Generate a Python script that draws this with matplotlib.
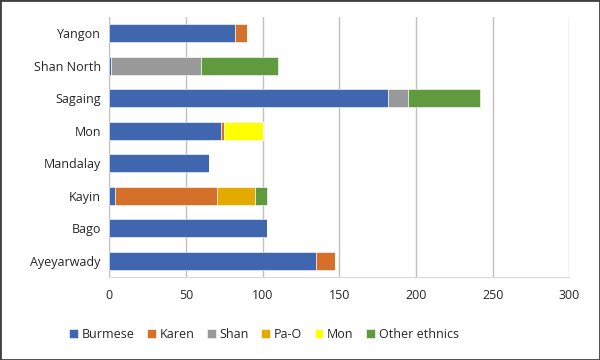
import matplotlib.pyplot as plt
import numpy as np

regions = ['Ayeyarwady', 'Bago', 'Kayin', 'Mandalay', 'Mon', 'Sagaing', 'Shan North', 'Yangon']
burmese = [135, 103, 4, 65, 73, 182, 1, 82]
karen = [12, 0, 66, 0, 2, 0, 0, 8]
shan = [0, 0, 0, 0, 0, 13, 59, 0]
pao = [0, 0, 25, 0, 0, 0, 0, 0]
mon = [0, 0, 0, 0, 25, 0, 0, 0]
other = [0, 0, 8, 0, 0, 47, 50, 0]

series = [('Burmese', burmese, '#3F66AE'),
          ('Karen', karen, '#D5702B'),
          ('Shan', shan, '#999999'),
          ('Pa-O', pao, '#E3AA00'),
          ('Mon', mon, '#FFFF00'),
          ('Other ethnics', other, '#5F9A3F')]

plt.rcParams['font.family'] = ['Open Sans', 'DejaVu Sans']

fig = plt.figure(figsize=(6, 3.6), dpi=100)
ax = fig.add_axes([0.182, 0.231, 0.767, 0.722])

y = np.arange(len(regions))
left = np.zeros(len(regions))
for name, vals, color in series:
    vals = np.array(vals, dtype=float)
    ax.barh(y, vals, left=left, height=0.55, color=color, label=name,
            edgecolor='white', linewidth=0.4, zorder=3)
    left += vals

ax.set_xlim(0, 300)
ax.set_ylim(-0.5, len(regions) - 0.5)
ax.set_xticks(range(0, 301, 50))
ax.set_yticks(y)
ax.set_yticklabels(regions)
ax.tick_params(length=0, labelsize=9, colors='#262626', pad=6)
ax.tick_params(axis='x', pad=9)
ax.grid(axis='x', color='#BFBFBF', linewidth=1, zorder=0)
for s in ['top', 'right']:
    ax.spines[s].set_visible(False)
ax.spines['left'].set_color('#BFBFBF')
ax.spines['bottom'].set_color('#D9D9D9')

fig.legend(loc='center', bbox_to_anchor=(0.44, 0.072), ncol=6, frameon=False,
           fontsize=9, handlelength=0.7, handleheight=0.7, handletextpad=0.3,
           columnspacing=1.0, labelcolor='#262626')

fig.patches.append(plt.Rectangle((0, 0), 1, 1, transform=fig.transFigure,
                                 fill=False, edgecolor='#404040', linewidth=2))

fig.savefig('out.png', dpi=100)
